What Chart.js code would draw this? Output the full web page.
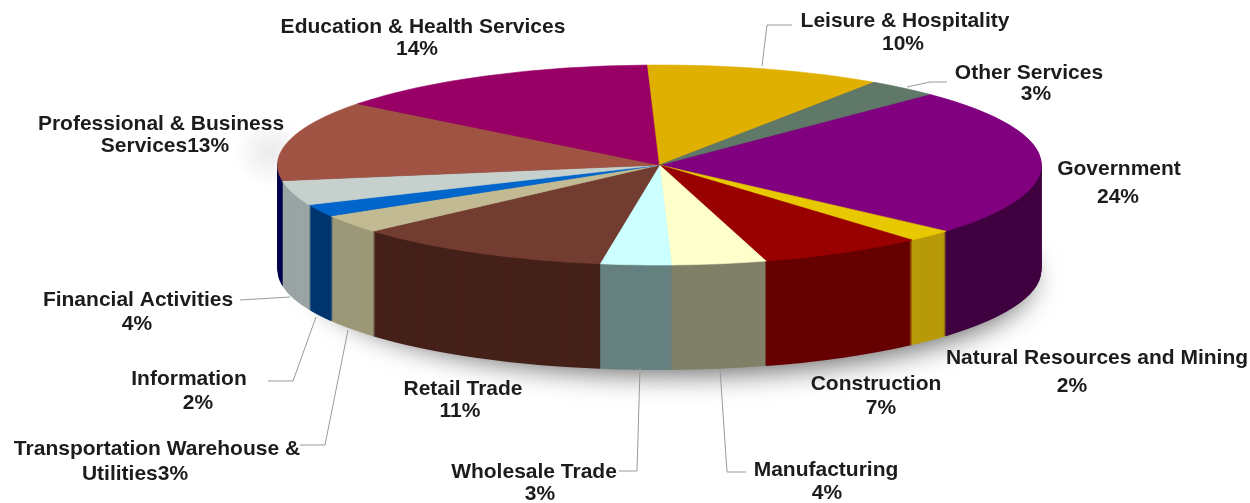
<!DOCTYPE html>
<html>
<head>
<meta charset="utf-8">
<title>Employment by sector</title>
<script src="https://cdn.jsdelivr.net/npm/chart.js@4"></script>
<style>
  html, body { margin: 0; padding: 0; background: #fff; }
  canvas { display: block; }
</style>
</head>
<body>
<canvas id="pie" width="1250" height="503"></canvas>
<script>
// slices, clockwise from the Government slice
const categories = [
  'Government', 'Natural Resources and Mining', 'Construction', 'Manufacturing',
  'Wholesale Trade', 'Retail Trade', 'Transportation Warehouse & Utilities',
  'Information', 'Financial Activities', 'Professional & Business Services',
  'Education & Health Services', 'Leisure & Hospitality', 'Other Services'
];
const shares = [24, 2, 7, 4, 3, 11, 3, 2, 4, 13, 14, 10, 3];

const topColors = [
  '#800080', '#e8c800', '#990000', '#ffffcc', '#ccffff', '#723c30', '#c2ba92',
  '#0066cc', '#c6d0cc', '#a05342', '#990066', '#e0b000', '#607868'
];
const sideColors = [
  '#400040', '#b89a08', '#660000', '#808068', '#668080', '#45211a', '#9c9878',
  '#003670', '#9aa4a4', '#000050', '#4d0033', '#705800', '#303c34'
];

// label text as it is broken in the picture: [line, x, y]
const labels = [
  ['Education & Health Services', 423, 27], ['14%', 417, 49],
  ['Leisure & Hospitality', 905, 21], ['10%', 903, 44],
  ['Other Services', 1029, 73], ['3%', 1036, 94],
  ['Government', 1119, 169], ['24%', 1118, 197],
  ['Natural Resources and Mining', 1097, 358], ['2%', 1072, 386],
  ['Construction', 876, 384], ['7%', 881, 408],
  ['Manufacturing', 826, 470], ['4%', 827, 493],
  ['Wholesale Trade', 534, 472], ['3%', 540, 494],
  ['Retail Trade', 463, 389], ['11%', 460, 411],
  ['Transportation Warehouse &', 157, 449], ['Utilities3%', 135, 474],
  ['Information', 189, 379], ['2%', 198, 403],
  ['Financial Activities', 138, 300], ['4%', 137, 324],
  ['Professional & Business', 161, 124], ['Services13%', 165, 146]
];

// leader lines from label to slice
const leaders = [
  [[792, 25], [767, 25], [762, 66]],
  [[947, 82], [930, 82], [907, 87]],
  [[240, 300], [290, 297]],
  [[268, 381], [293, 381], [316, 317]],
  [[300, 445], [325, 445], [348, 330]],
  [[619, 471], [637, 471], [640, 368]],
  [[746, 472], [727, 472], [720, 369]]
];

const RADIUS  = 382;
const SQUASH  = 100 / 382;  // ellipse height / width
const DEPTH   = 105;

function paintArc(arc, ctx, color, borderWidth) {
  const options = { ...arc.options, backgroundColor: color, borderColor: color, borderWidth };
  arc.draw.call(Object.create(arc, { options: { value: options } }), ctx);
}

function paintLayer(chart, ctx, dy, colors, borderWidth) {
  const arcs = chart.getDatasetMeta(0).data;
  const { x, y } = arcs[0];
  ctx.save();
  ctx.translate(x, y + dy);
  ctx.scale(1, SQUASH);
  ctx.translate(-x, -y);
  arcs.forEach((arc, i) => paintArc(arc, ctx, colors[i], borderWidth));
  ctx.restore();
}

const tiltedPie = {
  id: 'tiltedPie',
  beforeDatasetsDraw(chart) {
    const ctx = chart.ctx;
    const { x, y } = chart.getDatasetMeta(0).data[0];

    // soft shadow under the disc
    ctx.save();
    ctx.shadowColor = 'rgba(0,0,0,0.6)';
    ctx.shadowBlur = 28;
    ctx.shadowOffsetY = 8;
    ctx.fillStyle = '#fff';
    ctx.beginPath();
    ctx.ellipse(x + 15, y + DEPTH, RADIUS - 25, RADIUS * SQUASH - 4, 0, 0, Math.PI * 2);
    ctx.fill();
    ctx.restore();

    // faint smudge left of the disc
    ctx.save();
    ctx.translate(270, 152);
    const smudge = ctx.createRadialGradient(0, 0, 4, 0, 0, 36);
    smudge.addColorStop(0, 'rgba(0,0,0,0.07)');
    smudge.addColorStop(1, 'rgba(0,0,0,0)');
    ctx.fillStyle = smudge;
    ctx.fillRect(-36, -36, 72, 72);
    ctx.restore();

    for (let d = DEPTH; d > 0; d--) {
      paintLayer(chart, ctx, d, sideColors, 0);
    }
    paintLayer(chart, ctx, 0, topColors, 1);
    return false;
  },
  afterDraw(chart) {
    const ctx = chart.ctx;
    ctx.save();
    ctx.strokeStyle = '#9a9a9a';
    ctx.lineWidth = 1;
    leaders.forEach(pts => {
      ctx.beginPath();
      pts.forEach(([px, py], i) => i ? ctx.lineTo(px, py) : ctx.moveTo(px, py));
      ctx.stroke();
    });
    ctx.fillStyle = '#1c1c1c';
    ctx.font = "bold 21px 'Liberation Sans', Arial, sans-serif";
    ctx.textAlign = 'center';
    ctx.textBaseline = 'middle';
    labels.forEach(([text, lx, ly]) => ctx.fillText(text, lx, ly));
    ctx.restore();
  }
};

new Chart(document.getElementById('pie'), {
  type: 'pie',
  data: {
    labels: categories,
    datasets: [{ data: shares, backgroundColor: topColors, borderWidth: 0 }]
  },
  options: {
    responsive: false,
    animation: false,
    rotation: 45,
    radius: RADIUS,
    layout: { padding: { left: 69, top: 0, right: 0, bottom: 173 } },
    plugins: { legend: { display: false }, tooltip: { enabled: false } }
  },
  plugins: [tiltedPie]
});
</script>
</body>
</html>
